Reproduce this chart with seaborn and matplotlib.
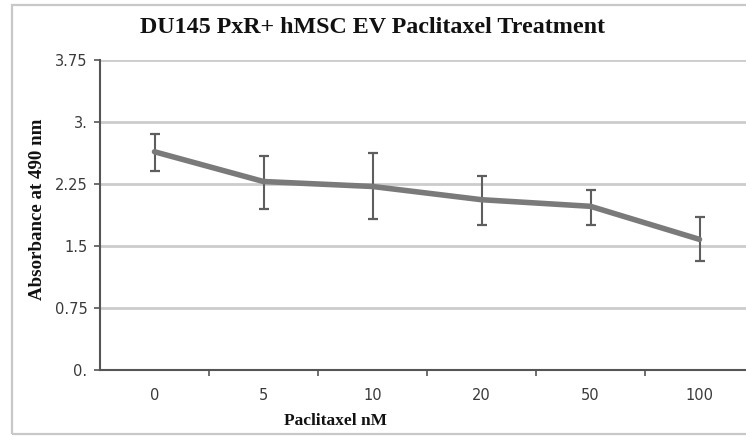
import matplotlib
matplotlib.use("Agg")
import matplotlib.pyplot as plt
import seaborn as sns
import pandas as pd
import numpy as np
from matplotlib.patches import Rectangle
from matplotlib.ticker import FixedLocator

categories = ["0", "5", "10", "20", "50", "100"]
absorbance = [2.64, 2.28, 2.22, 2.06, 1.98, 1.58]
err_upper = [2.86, 2.59, 2.63, 2.35, 2.18, 1.85]
err_lower = [2.41, 1.95, 1.83, 1.75, 1.75, 1.32]
y_ticks = [0, 0.75, 1.5, 2.25, 3.0, 3.75]
y_tick_labels = ["0.", "0.75", "1.5", "2.25", "3.", "3.75"]

sns.set_theme(style="white")
plt.rcParams["font.family"] = ["DejaVu Sans"]

W, H = 746, 436
fig = plt.figure(figsize=(W / 100, H / 100), dpi=100)
fig.patch.set_facecolor("white")

# outer chart border
fig.patches.append(Rectangle((12 / W, 1 - 434 / H), 760 / W, (434 - 5) / H,
                             transform=fig.transFigure, fill=False,
                             edgecolor="#c8c8c8", linewidth=1.6, zorder=0))

left, right, top, bottom = 100, 754, 60, 370
ax = fig.add_axes([left / W, 1 - bottom / H, (right - left) / W, (bottom - top) / H])

pos = np.arange(len(categories))
df = pd.DataFrame({"pos": pos, "absorbance": absorbance})

ax.errorbar(pos, absorbance,
            yerr=[np.array(absorbance) - np.array(err_lower),
                  np.array(err_upper) - np.array(absorbance)],
            fmt="none", ecolor="#5e5e5e", elinewidth=1.5, capsize=3.3,
            capthick=1.6, zorder=3)
sns.lineplot(data=df, x="pos", y="absorbance", ax=ax, color="#7a7a7a",
             linewidth=4.0, zorder=4, solid_capstyle="round")

ax.set_xlim(-0.5, len(categories) - 0.5)
ax.set_ylim(0, 3.75)
ax.set_yticks(y_ticks)
ax.set_yticklabels(y_tick_labels)
ax.set_xticks(pos)
ax.set_xticklabels(categories)
ax.xaxis.set_minor_locator(FixedLocator(np.arange(0.5, len(categories) - 0.5, 1)))
ax.tick_params(axis="x", which="major", length=0, pad=13, labelsize=10.5, labelcolor="#3a3a3a")
ax.tick_params(axis="x", which="minor", length=4, width=1.2, color="#555555", direction="out", bottom=True)
ax.tick_params(axis="y", length=4, width=1.2, color="#555555", direction="out",
               left=True, labelsize=10.5, labelcolor="#3a3a3a", pad=5)

ax.yaxis.grid(True, color="#cccccc", linewidth=2.0)
ax.set_axisbelow(True)
for s in ["top", "right"]:
    ax.spines[s].set_visible(False)
for s in ["left", "bottom"]:
    ax.spines[s].set_color("#555555")
    ax.spines[s].set_linewidth(1.5)
    ax.spines[s].set_zorder(5)

ax.set_xlabel("")
ax.set_ylabel("")

serif = ["Liberation Serif", "DejaVu Serif"]
fig.text(373 / W, 1 - 33 / H, "DU145 PxR+ hMSC EV Paclitaxel Treatment",
         family=serif, fontweight="bold", fontsize=17.3, ha="center", va="baseline",
         color="#111111")
fig.text(38 / W, 1 - 209 / H, "Absorbance at 490 nm", family=serif,
         fontweight="bold", fontsize=13.6, rotation=90, ha="center", va="center",
         color="#111111")
fig.text(335 / W, 1 - 421 / H, "Paclitaxel nM", family=serif,
         fontweight="bold", fontsize=12.5, ha="center", va="center",
         color="#111111")

fig.savefig("out.png", dpi=100, facecolor="white")
